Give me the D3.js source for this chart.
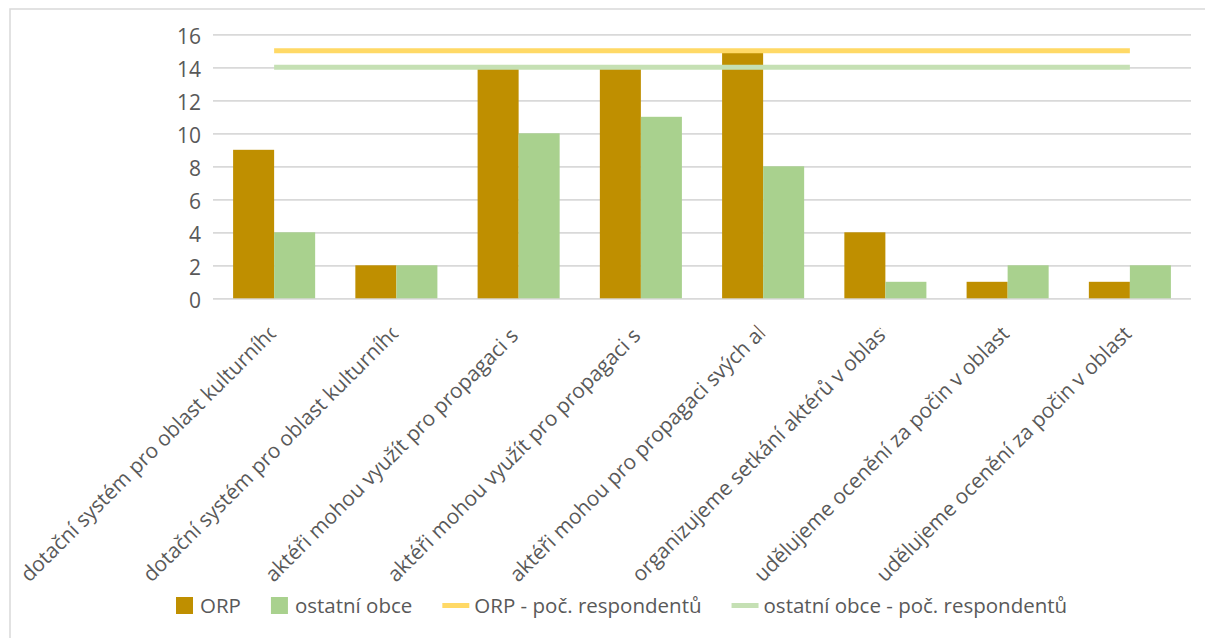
<!DOCTYPE html>
<html><head><meta charset="utf-8">
<script src="https://cdn.jsdelivr.net/npm/d3@7"></script>
<style>
html,body{margin:0;padding:0;background:#fff;}
svg{display:block;}
text{font-family:"Open Sans",sans-serif;fill:#595959;}
</style></head>
<body><svg id="c" width="1205" height="638"></svg>
<script>
const categories = [
  "dotační systém pro oblast kulturního",
  "dotační systém pro oblast kulturního",
  "aktéři mohou využít pro propagaci s",
  "aktéři mohou využít pro propagaci s",
  "aktéři mohou pro propagaci svých ak",
  "organizujeme setkání aktérů v oblasti",
  "udělujeme ocenění za počin v oblasti",
  "udělujeme ocenění za počin v oblasti"
];
const seriesNames = ["ORP", "ostatní obce"];
const orpValues = [9, 2, 14, 14, 15, 4, 1, 1];
const ostatniValues = [4, 2, 10, 11, 8, 1, 2, 2];
const lineNames = ["ORP - poč. respondentů", "ostatní obce - poč. respondentů"];
const orpRespondents = [15, 15, 15, 15, 15, 15, 15, 15];
const ostatniRespondents = [14, 14, 14, 14, 14, 14, 14, 14];
const yTicks = [0, 2, 4, 6, 8, 10, 12, 14, 16];

const barColors = ["#BF8F00", "#A9D18E"];
const lineColors = ["#FFD966", "#C5E0B4"];

(function () {
const svg = d3.select("#c");
// outer frame
svg.append("rect").attr("x", 10).attr("y", 9).attr("width", 1300).attr("height", 700)
  .attr("fill", "none").attr("stroke", "#d9d9d9").attr("stroke-width", 1.5);

const pLeft = 213, pRight = 1191, pTop = 34.3, pBottom = 298.3;
const x = d3.scaleBand().domain(d3.range(categories.length)).range([pLeft, pRight]).padding(0);
const x1 = d3.scaleBand().domain(seriesNames).range([0, x.bandwidth()]).paddingInner(0).paddingOuter(0.49);
const y = d3.scaleLinear().domain([0, 16]).range([pBottom, pTop]);

// gridlines
const grid = svg.append("g").attr("transform", `translate(${pLeft},0)`)
  .call(d3.axisLeft(y).tickValues(yTicks).tickSize(-(pRight - pLeft)).tickFormat(""));
grid.select(".domain").remove();
grid.selectAll("line").attr("stroke", "#d9d9d9").attr("stroke-width", 1.8);

// y axis labels
const ya = svg.append("g").attr("transform", `translate(201,0)`)
  .call(d3.axisLeft(y).tickValues(yTicks).tickSize(0).tickPadding(0));
ya.select(".domain").remove();
ya.selectAll("text").attr("font-size", 21).attr("font-family", '"Open Sans",sans-serif')
  .attr("fill", "#595959").attr("dy", "0.42em");

// bars
const barData = [];
categories.forEach((c, i) => {
  barData.push({i, s: seriesNames[0], v: orpValues[i], col: barColors[0]});
  barData.push({i, s: seriesNames[1], v: ostatniValues[i], col: barColors[1]});
});
svg.append("g").selectAll("rect").data(barData).join("rect")
  .attr("x", d => x(d.i) + x1(d.s))
  .attr("width", x1.bandwidth())
  .attr("y", d => y(d.v))
  .attr("height", d => y(0) - y(d.v))
  .attr("fill", d => d.col);

// respondent lines
const lineGen = d3.line().x((d, i) => x(i) + x.bandwidth() / 2).y(d => y(d));
[orpRespondents, ostatniRespondents].forEach((arr, k) => {
  svg.append("path").datum(arr).attr("d", lineGen)
    .attr("fill", "none").attr("stroke", lineColors[k]).attr("stroke-width", 5);
});

// category labels (rotated, truncated like Excel)
const defs = svg.append("defs");
const labelLen = 350;
defs.append("clipPath").attr("id", "lblclip").append("rect")
  .attr("x", -5).attr("y", -30).attr("width", labelLen + 5).attr("height", 45);
const lg = svg.append("g");
categories.forEach((c, i) => {
  const cx = x(i) + x.bandwidth() / 2;
  const g = lg.append("g").attr("transform", `translate(${cx - 245},583) rotate(-45)`);
  g.append("text").attr("x", 0).attr("y", 0).attr("font-size", 20.8)
    .attr("clip-path", "url(#lblclip)").text(c);
});

// legend
const legendItems = [
  {name: seriesNames[0], type: "rect", col: barColors[0]},
  {name: seriesNames[1], type: "rect", col: barColors[1]},
  {name: lineNames[0], type: "line", col: lineColors[0]},
  {name: lineNames[1], type: "line", col: lineColors[1]}
];
const leg = svg.append("g");
let lx = 176;
const ly = 605.5;
legendItems.forEach(it => {
  let tx;
  if (it.type === "rect") {
    leg.append("rect").attr("x", lx).attr("y", ly - 8.5).attr("width", 17).attr("height", 17).attr("fill", it.col);
    tx = lx + 24;
  } else {
    leg.append("line").attr("x1", lx).attr("x2", lx + 27).attr("y1", ly).attr("y2", ly)
      .attr("stroke", it.col).attr("stroke-width", 5);
    tx = lx + 32;
  }
  const t = leg.append("text").attr("x", tx).attr("y", ly).attr("dy", "0.36em")
    .attr("font-size", 20.5).text(it.name);
  lx = tx + t.node().getComputedTextLength() + 30;
});
})();
</script></body></html>
